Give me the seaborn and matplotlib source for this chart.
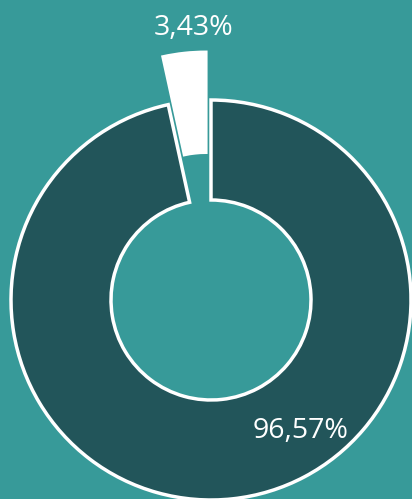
import matplotlib
matplotlib.use("Agg")
import matplotlib.pyplot as plt
import seaborn as sns

labels = ["3,43%", "96,57%"]
values = [3.43, 96.57]
colors = ["#ffffff", "#22555a"]
explode = [0.24, 0.0]
bg = "#379a99"

sns.set_style("white")
plt.rcParams["font.family"] = ["Open Sans", "DejaVu Sans"]

fig = plt.figure(figsize=(4.12, 4.99), dpi=100, facecolor=bg)
ax = fig.add_axes([0, 0, 1, 1])
ax.set_facecolor(bg)

wedges, _ = ax.pie(values, colors=colors, startangle=90, counterclock=True,
                   explode=explode, radius=1.0,
                   wedgeprops=dict(width=0.5, edgecolor="white", linewidth=2.5))

label_pos = [(-0.09, 1.36), (0.45, -0.655)]
for lab, (x, y) in zip(labels, label_pos):
    ax.text(x, y, lab, ha="center", va="center", color="white", fontsize=20.5)

ax.set_xlim(-1.055, 1.005)
ax.set_ylim(-0.995, 1.5)
ax.set_aspect("equal")
ax.axis("off")

fig.savefig("out.png", dpi=100, facecolor=bg)
